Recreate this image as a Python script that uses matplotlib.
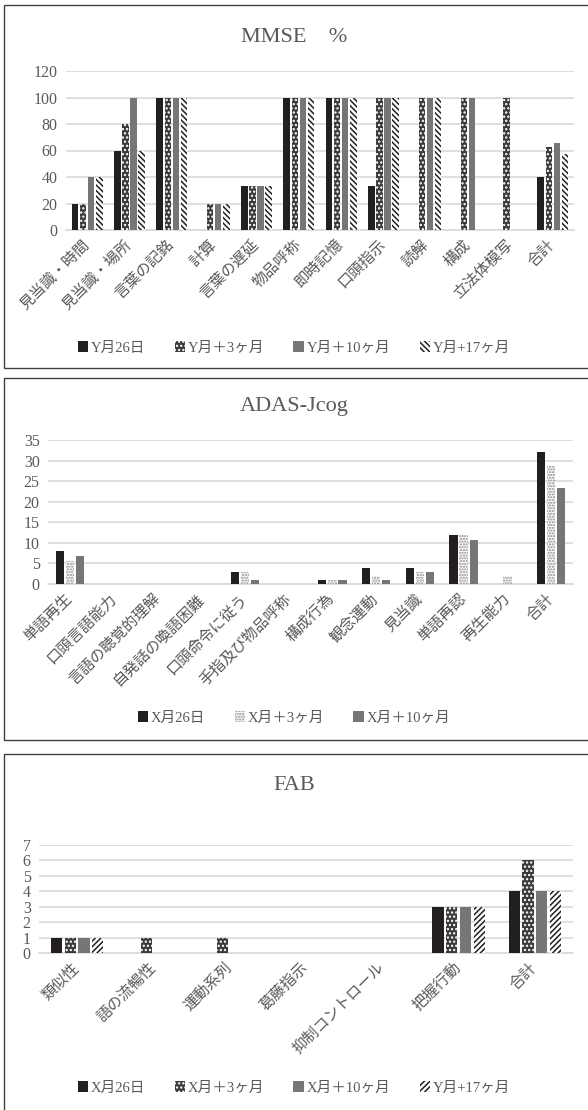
import numpy as np
import matplotlib.pyplot as plt
from matplotlib.patches import Rectangle

plt.rcParams['font.family'] = ['Liberation Serif', 'Noto Sans CJK JP', 'DejaVu Sans']
plt.rcParams['hatch.linewidth'] = 1.1

# ---- data ----
mmse_cats = ['見当識・時間', '見当識・場所', '言葉の記銘', '計算', '言葉の遅延', '物品呼称',
             '即時記憶', '口頭指示', '読解', '構成', '立法体模写', '合計']
mmse_labels = ['Y月26日', 'Y月＋3ヶ月', 'Y月＋10ヶ月', 'Y月+17ヶ月']
mmse_s1 = [20, 60, 100, 0, 33, 100, 100, 33, 0, 0, 0, 40]
mmse_s2 = [20, 80, 100, 20, 33, 100, 100, 100, 100, 100, 100, 63]
mmse_s3 = [40, 100, 100, 20, 33, 100, 100, 100, 100, 100, 0, 66]
mmse_s4 = [40, 60, 100, 20, 33, 100, 100, 100, 100, 0, 0, 57]

adas_cats = ['単語再生', '口頭言語能力', '言語の聴覚的理解', '自発話の喚語困難', '口頭命令に従う',
             '手指及び物品呼称', '構成行為', '観念運動', '見当識', '単語再認', '再生能力', '合計']
adas_labels = ['X月26日', 'X月＋3ヶ月', 'X月＋10ヶ月']
adas_s1 = [8, 0, 0, 0, 3, 0, 1, 4, 4, 12, 0, 32]
adas_s2 = [5.7, 0, 0, 0, 3, 0, 1, 2, 3, 12, 2, 28.7]
adas_s3 = [6.7, 0, 0, 0, 1, 0, 1, 1, 3, 10.7, 0, 23.3]

fab_cats = ['類似性', '語の流暢性', '運動系列', '葛藤指示', '抑制コントロール', '把握行動', '合計']
fab_labels = ['X月26日', 'X月＋3ヶ月', 'X月＋10ヶ月', 'Y月+17ヶ月']
fab_s1 = [1, 0, 0, 0, 0, 3, 4]
fab_s2 = [1, 1, 1, 0, 0, 3, 6]
fab_s3 = [1, 0, 0, 0, 0, 3, 4]
fab_s4 = [1, 0, 0, 0, 0, 3, 4]

W, H = 588, 1110
fig = plt.figure(figsize=(W / 100, H / 100), dpi=100)
TXT = '#595959'
BLK = '#231f20'
GRY = '#767676'


def px_axes(left, top, right, bottom):
    return fig.add_axes([left / W, 1 - bottom / H, (right - left) / W, (bottom - top) / H])


def border(left, top, right, bottom):
    fig.patches.append(Rectangle((left / W, 1 - bottom / H), (right - left) / W, (bottom - top) / H,
                                 transform=fig.transFigure, fill=False, ec='#404040', lw=1.0))


def panel(ax, cats, series, labels, styles, width, step, ymax, ystep, title, title_y, leg_y):
    x = np.arange(len(cats))
    n = len(series)
    handles = []
    for i, (vals, st) in enumerate(zip(series, styles)):
        off = (i - (n - 1) / 2) * step
        b = ax.bar(x + off, vals, width, label=labels[i], zorder=3, lw=0, **st)
        handles.append(b)
    ax.set_xlim(-0.5, len(cats) - 0.5)
    ax.set_ylim(0, ymax)
    ax.set_yticks(np.arange(0, ymax + 0.01, ystep))
    ax.yaxis.grid(True, color='#d9d9d9', lw=1.2, zorder=0)
    for s in ['top', 'right', 'left']:
        ax.spines[s].set_visible(False)
    ax.spines['bottom'].set_color('#d9d9d9')
    ax.spines['bottom'].set_linewidth(1.2)
    ax.tick_params(axis='y', length=0, colors=TXT, labelsize=11.5, pad=6)
    ax.tick_params(axis='x', length=0, colors=TXT, pad=9)
    ax.set_xticks(x)
    ax.set_xticklabels(cats, rotation=45, ha='right', va='center', rotation_mode='anchor',
                       fontsize=11)
    fig.text(0.5, 1 - title_y / H, title, ha='center', va='center', fontsize=16, color=TXT)
    fig.legend(handles=handles, loc='center', bbox_to_anchor=(0.5, 1 - leg_y / H), ncol=n,
               frameon=False, fontsize=10.5, handlelength=0.7, handleheight=0.7,
               handletextpad=0.2, columnspacing=2.0, labelcolor=TXT)


solid_blk = dict(color=BLK)
check = dict(facecolor='#3a3a3a', edgecolor='white', hatch='....')
dots = dict(facecolor='white', edgecolor='#8a8a8a', hatch='......')
solid_gry = dict(color=GRY)
back = dict(facecolor='white', edgecolor=BLK, hatch='\\\\\\\\\\\\')
fwd = dict(facecolor='white', edgecolor=BLK, hatch='//////')

# MMSE
border(4, 5, 590, 368)
ax1 = px_axes(66, 71, 574, 230)
panel(ax1, mmse_cats, [mmse_s1, mmse_s2, mmse_s3, mmse_s4], mmse_labels,
      [solid_blk, check, solid_gry, back], 0.155, 0.19, 120, 20, 'MMSE　%', 38, 348)

# ADAS-Jcog
border(4, 378, 590, 740)
ax2 = px_axes(48, 440, 573, 584)
panel(ax2, adas_cats, [adas_s1, adas_s2, adas_s3], adas_labels,
      [solid_blk, dots, solid_gry], 0.19, 0.23, 35, 5, 'ADAS-Jcog', 407, 718)

# FAB
border(4, 754, 590, 1115)
ax3 = px_axes(39, 845, 573, 953)
panel(ax3, fab_cats, [fab_s1, fab_s2, fab_s3, fab_s4], fab_labels,
      [solid_blk, check, solid_gry, fwd], 0.145, 0.18, 7, 1, 'FAB', 785, 1088)

fig.savefig('out.png', dpi=100)
